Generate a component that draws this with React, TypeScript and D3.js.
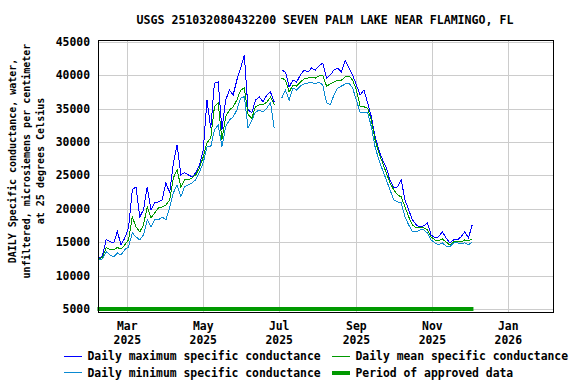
import React from "react";
import * as d3 from "d3";

const TITLE = "USGS 251032080432200 SEVEN PALM LAKE NEAR FLAMINGO, FL";
const Y_LABEL = [
  "DAILY Specific conductance, water,",
  "unfiltered, microsiemens per centimeter",
  "at 25 degrees Celsius",
];
const START_DATE = "2025-02-06";
const STEP_DAYS = 3;

const maxVals: (number | null)[] = [
  12600, 12900, 15400, 15100, 14900, 16600, 14600, 15650, 17150, 22850,
  23300, 18800, 19850, 23300, 19850, 20900, 21050, 21350, 23900, 22400,
  26900, 29600, 25100, 25400, 25100, 24800, 25400, 26600, 28850, 36300,
  32100, 38850, 39000, 31850, 36300, 37800, 37050, 39300, 41100, 43050,
  34800, 34400, 36300, 36800, 36000, 37050, 37500, 36000, null, 40800,
  40500, 38250, 39300, 39000, 40050, 40800, 40500, 41100, 40800, 41400,
  41850, 39600, 40050, 40800, 41100, 40500, 42300, 41100, 40050, 38550,
  37050, 37800, 35900, 33800, 30800, 28850, 27350, 26150, 24350, 23150,
  23300, 24350, 21350, 19850, 18350, 17600, 17300, 17450, 17900, 16100,
  15650, 15800, 16550, 15650, 14900, 15350, 15350, 15800, 16550, 15650,
  17600,
];
const meanVals: (number | null)[] = [
  12500, 12700, 14200, 13900, 13900, 14200, 14000, 14600, 15350, 18800,
  17300, 16550, 17600, 20300, 18650, 19400, 20150, 20300, 20600, 21350,
  24650, 25850, 23300, 24350, 24350, 24650, 25100, 26150, 27800, 29900,
  30600, 35300, 35900, 30350, 33800, 34800, 35300, 36300, 37800, 38100,
  34100, 33600, 35300, 35600, 35600, 36000, 36750, 35600, null, 39600,
  39300, 37500, 38550, 38400, 39000, 39450, 39600, 39750, 39600, 39900,
  40050, 38400, 38700, 39000, 39300, 39300, 39750, 39900, 39300, 37800,
  35400, 35300, 35100, 33300, 30350, 28400, 26900, 25400, 23900, 22850,
  22100, 21800, 20300, 18800, 17600, 17150, 17150, 17150, 16850, 15800,
  15350, 15200, 15500, 15050, 14600, 15050, 15050, 15050, 15350, 15200,
  15500,
];
const minVals: (number | null)[] = [
  12400, 12500, 13600, 13100, 12800, 13400, 13100, 13900, 14300, 16400,
  15800, 15350, 16100, 18350, 17300, 18350, 18350, 18800, 18350, 20150,
  22400, 23600, 21800, 23300, 23600, 23900, 24350, 25550, 26900, 29300,
  29300, 31850, 32600, 29300, 32300, 33300, 33800, 34800, 36600, 36800,
  32100, 33300, 34500, 34800, 34500, 35100, 35900, 32100, null, 36600,
  37800, 36300, 38100, 37800, 38400, 38700, 38850, 39000, 38700, 39000,
  38550, 35900, 35600, 37050, 38100, 38400, 38700, 38850, 38100, 36300,
  34400, 34400, 34500, 32300, 29300, 27350, 25850, 24350, 22850, 21350,
  21050, 20900, 18800, 17600, 16550, 16550, 16850, 16850, 16400, 15350,
  14900, 14600, 14900, 14450, 14300, 14900, 14900, 14750, 14900, 14600,
  15050,
];

const APPROVED_START = "2025-02-05";
const APPROVED_END = "2025-12-04";

const yTicks = [5000, 10000, 15000, 20000, 25000, 30000, 35000, 40000, 45000];
const xTickDates = ["2025-03-01", "2025-05-01", "2025-07-01", "2025-09-01", "2025-11-01", "2026-01-01"];
const xTickMonths = ["Mar", "May", "Jul", "Sep", "Nov", "Jan"];
const xTickYears = ["2025", "2025", "2025", "2025", "2025", "2026"];

const legendItems = [
  { label: "Daily maximum specific conductance", color: "#0000ff", width: 1 },
  { label: "Daily mean specific conductance", color: "#009900", width: 1 },
  { label: "Daily minimum specific conductance", color: "#0a8ad2", width: 1 },
  { label: "Period of approved data", color: "#009900", width: 4 },
];

const FONT = "'DejaVu Sans Mono', monospace";

const parse = (s: string) => {
  const [y, m, d] = s.split("-").map(Number);
  return new Date(Date.UTC(y, m - 1, d));
};

export default function App() {
  const W = 576, H = 384;
  const left = 98, right = 554, top = 40, bottom = 312;

  const x = d3.scaleUtc()
    .domain([parse("2025-03-01"), parse("2026-01-01")])
    .range([127.3, 508.3]);
  const y = d3.scaleLinear().domain([4550, 45300]).range([bottom, top]);

  const start = parse(START_DATE);
  const dateAt = (i: number) => new Date(start.getTime() + i * STEP_DAYS * 86400000);

  const mkLine = (vals: (number | null)[]) =>
    d3.line<number | null>()
      .defined((d) => d != null)
      .x((_, i) => x(dateAt(i)))
      .y((d) => y(d as number))(vals) || "";

  return (
    <svg width={W} height={H} style={{ display: "block", position: "absolute", left: 0, top: 0 }} fontFamily={FONT}>
      <rect x={0} y={0} width={W} height={H} fill="#ffffff" />
      <text x={325} y={20} textAnchor="middle" dominantBaseline="central" fontSize={11.6} fontWeight="bold">{TITLE}</text>

      {yTicks.map((t) => (
        <line key={"gy" + t} x1={left} x2={right} y1={Math.round(y(t)) + 0.5} y2={Math.round(y(t)) + 0.5} stroke="#cccccc" strokeWidth={1} />
      ))}
      {xTickDates.map((d) => (
        <line key={"gx" + d} x1={Math.round(x(parse(d))) + 0.5} x2={Math.round(x(parse(d))) + 0.5} y1={top} y2={bottom} stroke="#cccccc" strokeWidth={1} />
      ))}

      <line x1={x(parse(APPROVED_START))} x2={x(parse(APPROVED_END))} y1={y(5000)} y2={y(5000)} stroke="#009900" strokeWidth={4} />

      <path d={mkLine(maxVals)} fill="none" stroke="#0000ff" strokeWidth={1} shapeRendering="crispEdges" />
      <path d={mkLine(minVals)} fill="none" stroke="#0a8ad2" strokeWidth={1} shapeRendering="crispEdges" />
      <path d={mkLine(meanVals)} fill="none" stroke="#009900" strokeWidth={1} shapeRendering="crispEdges" />

      <rect x={left + 0.5} y={top + 0.5} width={right - left - 1} height={bottom - top} fill="none" stroke="#000" strokeWidth={1} />

      {yTicks.map((t) => (
        <text key={"ty" + t} x={90} y={y(t)} textAnchor="end" dominantBaseline="central" fontSize={11.4} fontWeight="bold">{t}</text>
      ))}
      {xTickDates.map((d, i) => (
        <g key={"tx" + d}>
          <text x={x(parse(d))} y={326} textAnchor="middle" dominantBaseline="central" fontSize={11.4} fontWeight="bold">{xTickMonths[i]}</text>
          <text x={x(parse(d))} y={339.5} textAnchor="middle" dominantBaseline="central" fontSize={11.4} fontWeight="bold">{xTickYears[i]}</text>
        </g>
      ))}

      {Y_LABEL.map((s, i) => (
        <text key={"yl" + i} transform={`translate(${12 + i * 14},161) rotate(-90)`} textAnchor="middle" dominantBaseline="central" fontSize={10} fontWeight="bold">{s}</text>
      ))}

      {legendItems.map((it, i) => {
        const col = i % 2, row = Math.floor(i / 2);
        const sx = col === 0 ? 64 : 332;
        const ly = row === 0 ? 356 : 372.5;
        return (
          <g key={"lg" + i}>
            <line x1={sx} x2={sx + 18} y1={ly} y2={ly} stroke={it.color} strokeWidth={it.width} shapeRendering="crispEdges" />
            <text x={sx + 23.5} y={ly} dominantBaseline="central" fontSize={11.4} fontWeight="bold">{it.label}</text>
          </g>
        );
      })}
    </svg>
  );
}
